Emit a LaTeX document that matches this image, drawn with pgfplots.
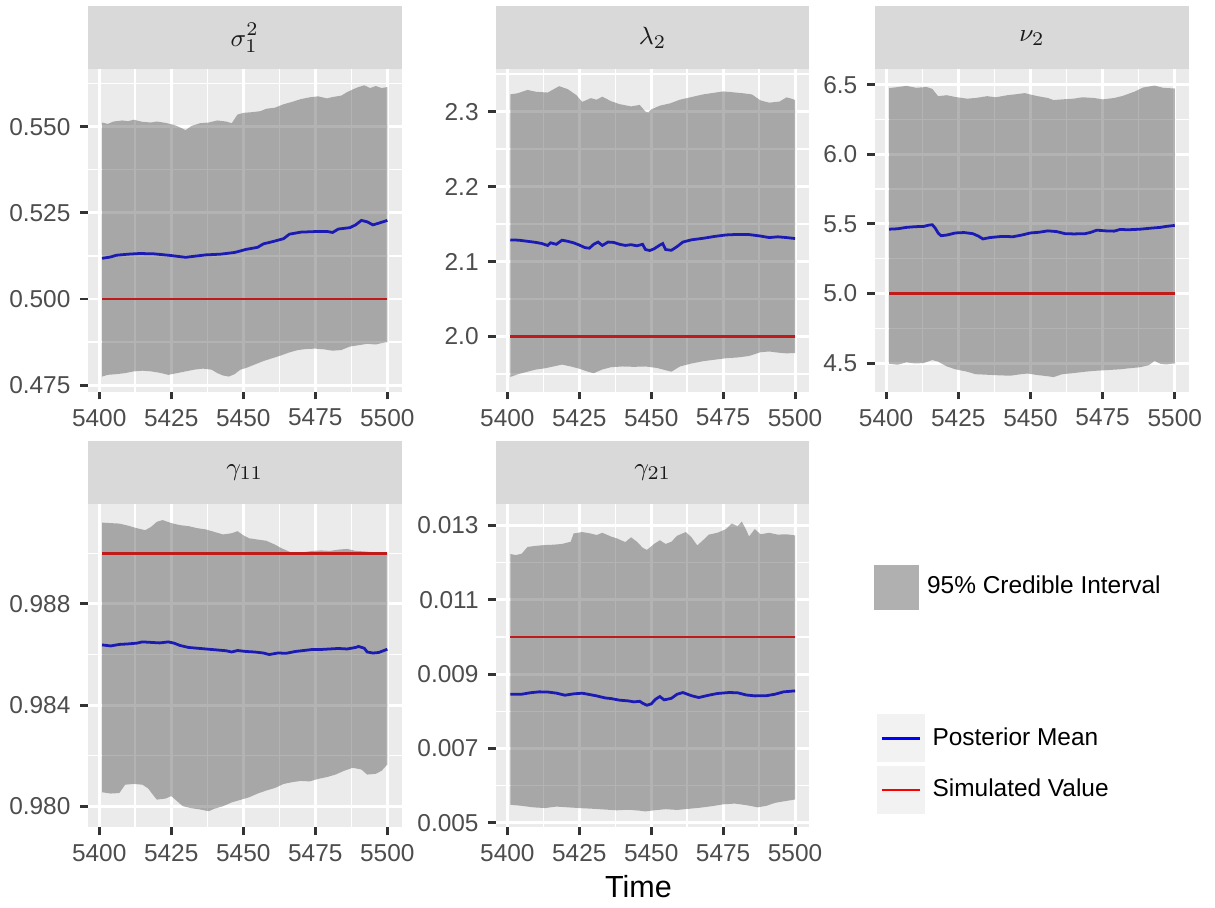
\documentclass[border=0pt]{standalone}
\usepackage{pgfplots}
\pgfplotsset{compat=1.18}
\usepgfplotslibrary{fillbetween}
\usepackage{fontspec}
\setmainfont{Liberation Sans}
\definecolor{panelbg}{HTML}{EBEBEB}
\definecolor{stripbg}{HTML}{D9D9D9}
\definecolor{ticktext}{HTML}{4D4D4D}
\definecolor{tickcol}{HTML}{333333}
\definecolor{striptext}{HTML}{1A1A1A}
\definecolor{bandc}{HTML}{434343}
\definecolor{keybg}{HTML}{F2F2F2}
\definecolor{meanc}{HTML}{1B1BB4}
\definecolor{simc}{HTML}{C01B1B}
\pgfplotsset{
 every axis title shift=0pt,
 facet/.style={
  scale only axis, anchor=south west,
  xmin=5396.05, xmax=5504.95,
  xtick={5400,5425,5450,5475,5500},
  xticklabels={5400,5425,5450,5475,5500},
  minor xtick={5412.5,5437.5,5462.5,5487.5},
  axis background/.style={fill=panelbg},
  axis line style={draw=none},
  grid=both,
  major grid style={white, line width=1.07pt},
  minor grid style={white, line width=0.53pt},
  tick pos=left, tick align=outside,
  major tick length=2.75pt, minor tick length=0pt,
  major tick style={tickcol, line width=1.07pt},
  ticklabel style={font=\fontsize{8.8}{10}\selectfont, text=ticktext},
  /pgf/number format/assume math mode=true,
  scaled ticks=false,
  title style={at={(0.5,1)}, anchor=south, yshift=0pt, fill=stripbg, inner sep=0pt, outer sep=0pt, minimum height=22.86pt, text=striptext, font=\fontsize{9.5}{11}\selectfont},
 },
 band/.style={fill=bandc, fill opacity=0.4, draw=none},
 meanline/.style={meanc, line width=1.0pt},
 simline/.style={simc, line width=1.0pt},
 keylegend/.style={draw=none, fill=none, inner sep=0pt, outer sep=0pt, column sep=0pt, row sep=1.44pt,
   nodes={inner xsep=2.9pt, inner ysep=0pt, font=\fontsize{8.8}{10}\selectfont, text=black}},
 keyblue/.style={legend image code/.code={%
   \fill[keybg] (0pt,-8.1pt) rectangle (16.2pt,8.1pt);
   \draw[blue, line width=1pt] (1.2pt,0pt) -- (15pt,0pt);}},
 keyred/.style={legend image code/.code={%
   \fill[keybg] (0pt,-8.1pt) rectangle (16.2pt,8.1pt);
   \draw[red, line width=1pt] (1.2pt,0pt) -- (15pt,0pt);}},
 keyband/.style={legend image code/.code={%
   \fill[keybg] (0pt,-8.1pt) rectangle (16.2pt,8.1pt);
   \fill[bandc, fill opacity=0.4] (0pt,-8.1pt) rectangle (16.2pt,8.1pt);}},
}
\begin{document}
\begin{tikzpicture}
\path (0,0) rectangle (437.4pt,-326.88pt);

% ---------- sigma_1^2 ----------
\begin{axis}[facet, at={(31.32pt,-141.12pt)}, width=113.04pt, height=116.1pt,
  title={$\sigma_1^2$}, title style={minimum width=113.04pt},
  ymin=0.4731, ymax=0.5666,
  ytick={0.475,0.5,0.525,0.55}, yticklabels={0.475,0.500,0.525,0.550},
  minor ytick={0.4875,0.5125,0.5375,0.5625}]
\addplot[draw=none, name path=up1, forget plot] coordinates {
(5401,0.5512) (5403,0.5508) (5405,0.5515) (5408,0.5518) (5410,0.5516) (5412,0.5520) (5415,0.5514) (5418,0.5512)
(5420,0.5515) (5423,0.5511) (5426,0.5505) (5428,0.5498) (5430,0.5490) (5432,0.5502) (5435,0.5510) (5438,0.5512)
(5441,0.5518) (5444,0.5515) (5446,0.5510) (5448,0.5535) (5450,0.5540) (5453,0.5542) (5456,0.5545) (5458,0.5552)
(5461,0.5555) (5464,0.5565) (5467,0.5572) (5470,0.5580) (5473,0.5585) (5476,0.5588) (5479,0.5582) (5481,0.5586)
(5484,0.5590) (5486,0.5600) (5488,0.5608) (5490,0.5615) (5492,0.5620) (5494,0.5612) (5496,0.5618) (5498,0.5612) (5500,0.5615)};
\addplot[draw=none, name path=lo1, forget plot] coordinates {
(5401,0.4775) (5403,0.4780) (5406,0.4782) (5409,0.4785) (5412,0.4790) (5415,0.4792) (5418,0.4790) (5421,0.4786)
(5424,0.4780) (5427,0.4785) (5430,0.4790) (5433,0.4795) (5436,0.4798) (5439,0.4795) (5441,0.4785) (5443,0.4778)
(5445,0.4775) (5447,0.4782) (5449,0.4795) (5451,0.4800) (5454,0.4810) (5457,0.4820) (5460,0.4828) (5463,0.4836)
(5466,0.4845) (5469,0.4852) (5472,0.4855) (5475,0.4856) (5478,0.4854) (5481,0.4850) (5484,0.4852) (5487,0.4862)
(5490,0.4866) (5493,0.4870) (5496,0.4868) (5498,0.4872) (5500,0.4875)};
\addplot[band, forget plot] fill between[of=up1 and lo1];
\addplot[simline, forget plot] coordinates {(5401,0.5) (5500,0.5)};
\addplot[meanline, forget plot] coordinates {
(5401,0.5118) (5404,0.5122) (5406,0.5127) (5410,0.5130) (5414,0.5132) (5419,0.5131) (5424,0.5127) (5428,0.5123)
(5430,0.5121) (5433,0.5124) (5437,0.5128) (5442,0.5130) (5447,0.5135) (5451,0.5144) (5455,0.5150) (5457,0.5160)
(5460,0.5166) (5464,0.5175) (5466,0.5188) (5470,0.5194) (5476,0.5196) (5479,0.5196) (5481,0.5193) (5483,0.5203)
(5487,0.5207) (5489,0.5215) (5491,0.5228) (5493,0.5224) (5495,0.5215) (5497,0.5220) (5500,0.5228)};
\end{axis}

% ---------- lambda_2 ----------
\begin{axis}[facet, at={(178.38pt,-141.12pt)}, width=112.86pt, height=116.1pt,
  title={$\lambda_2$}, title style={minimum width=112.86pt},
  ymin=1.9263, ymax=2.3563,
  ytick={2.0,2.1,2.2,2.3}, yticklabels={2.0,2.1,2.2,2.3},
  minor ytick={1.95,2.05,2.15,2.25,2.35}]
\addplot[draw=none, name path=up2, forget plot] coordinates {
(5401,2.3231) (5403.5,2.3245) (5407,2.3290) (5410,2.3265) (5414,2.3255) (5418,2.3340) (5421,2.3300) (5424,2.3220)
(5426,2.3130) (5429,2.3180) (5431,2.3160) (5433,2.3200) (5436,2.3140) (5439,2.3100) (5443,2.3070) (5446,2.3090)
(5448,2.3000) (5449,2.2990) (5450,2.3030) (5453,2.3080) (5456.5,2.3110) (5460,2.3160) (5464.6,2.3200) (5468,2.3230)
(5471.5,2.3250) (5475,2.3270) (5478,2.3260) (5482,2.3245) (5485,2.3230) (5488,2.3150) (5491,2.3120) (5494.6,2.3135)
(5497,2.3190) (5498.6,2.3175) (5500,2.3156)};
\addplot[draw=none, name path=lo2, forget plot] coordinates {
(5401,1.9460) (5404,1.9500) (5407,1.9530) (5410,1.9560) (5413,1.9575) (5416,1.9600) (5419,1.9625) (5422,1.9600)
(5425,1.9570) (5428,1.9530) (5430,1.9510) (5433,1.9560) (5436,1.9590) (5440,1.9600) (5444,1.9595) (5448,1.9600)
(5452,1.9580) (5455,1.9550) (5457,1.9530) (5460,1.9600) (5464,1.9640) (5468,1.9670) (5472,1.9690) (5476,1.9710)
(5480,1.9720) (5484,1.9740) (5488,1.9790) (5491,1.9800) (5494,1.9785) (5497,1.9775) (5500,1.9780)};
\addplot[band, forget plot] fill between[of=up2 and lo2];
\addplot[simline, forget plot] coordinates {(5401,2.0) (5500,2.0)};
\addplot[meanline, forget plot] coordinates {
(5401,2.1289) (5404,2.1285) (5407,2.1270) (5410,2.1255) (5412,2.1240) (5414,2.1215) (5415,2.1250) (5417,2.1230)
(5419,2.1285) (5421,2.1270) (5423,2.1250) (5425,2.1220) (5427,2.1185) (5428.5,2.1178) (5430,2.1230) (5431.5,2.1260)
(5433,2.1215) (5435,2.1260) (5437,2.1255) (5439,2.1230) (5441,2.1215) (5443,2.1225) (5445,2.1210) (5447,2.1230)
(5448,2.1160) (5449.5,2.1147) (5451,2.1170) (5453,2.1220) (5454,2.1240) (5455,2.1160) (5457,2.1150) (5459,2.1200)
(5461,2.1260) (5464,2.1290) (5468,2.1310) (5472,2.1335) (5476,2.1355) (5480,2.1362) (5484,2.1360) (5488,2.1340)
(5491,2.1320) (5494,2.1330) (5497,2.1320) (5500,2.1307)};
\end{axis}

% ---------- nu_2 ----------
\begin{axis}[facet, at={(314.82pt,-141.12pt)}, width=113.22pt, height=116.1pt,
  title={$\nu_2$}, title style={minimum width=113.22pt},
  ymin=4.294, ymax=6.61,
  ytick={4.5,5.0,5.5,6.0,6.5}, yticklabels={4.5,5.0,5.5,6.0,6.5},
  minor ytick={4.75,5.25,5.75,6.25}]
\addplot[draw=none, name path=up3, forget plot] coordinates {
(5401,6.476) (5403.5,6.482) (5407,6.492) (5410.4,6.478) (5414,6.484) (5416,6.470) (5418,6.418) (5421,6.425)
(5424,6.412) (5428,6.400) (5431,6.405) (5435,6.418) (5438,6.410) (5442,6.425) (5445,6.432) (5448,6.440)
(5452,6.420) (5456,6.405) (5458,6.390) (5461,6.395) (5465,6.400) (5468,6.410) (5472,6.405) (5475,6.395)
(5479,6.405) (5482,6.420) (5486,6.450) (5489,6.480) (5493,6.494) (5496,6.478) (5500,6.473)};
\addplot[draw=none, name path=lo3, forget plot] coordinates {
(5401,4.495) (5404,4.488) (5407,4.505) (5410,4.497) (5413,4.500) (5416,4.522) (5418,4.510) (5421,4.476)
(5424,4.455) (5428,4.438) (5431,4.420) (5435,4.416) (5439,4.412) (5443,4.409) (5446,4.418) (5449,4.425)
(5452,4.415) (5456,4.405) (5458,4.399) (5461,4.420) (5465,4.428) (5469,4.438) (5473,4.445) (5477,4.450)
(5481,4.455) (5484,4.462) (5488,4.470) (5491,4.485) (5493,4.515) (5495,4.495) (5497,4.490) (5500,4.498)};
\addplot[band, forget plot] fill between[of=up3 and lo3];
\addplot[simline, forget plot] coordinates {(5401,5.0) (5500,5.0)};
\addplot[meanline, forget plot] coordinates {
(5401,5.462) (5404,5.465) (5407,5.475) (5410,5.480) (5413,5.482) (5415,5.492) (5416,5.494) (5417,5.470)
(5418,5.435) (5419,5.415) (5421,5.420) (5424,5.435) (5427,5.438) (5430,5.430) (5432,5.412) (5433.5,5.392)
(5436,5.402) (5440,5.410) (5444,5.408) (5447,5.420) (5450,5.435) (5453,5.440) (5456,5.450) (5459,5.445)
(5462,5.430) (5465,5.428) (5469,5.430) (5471,5.440) (5473,5.455) (5476,5.450) (5479,5.448) (5481,5.460)
(5484,5.458) (5488,5.462) (5492,5.470) (5495,5.475) (5497,5.482) (5500,5.489)};
\end{axis}

% ---------- gamma_11 ----------
\begin{axis}[facet, at={(31.32pt,-298.08pt)}, width=113.04pt, height=116.46pt,
  title={$\gamma_{11}$}, title style={minimum width=113.04pt},
  ymin=0.97916, ymax=0.99195,
  ytick={0.980,0.984,0.988}, yticklabels={0.980,0.984,0.988},
  minor ytick={0.982,0.986,0.990},
  legend style={keylegend, at={(2.506,0.7434)}, anchor=west}, legend cell align=left]
\addplot[draw=none, name path=up4, forget plot] coordinates {
(5401,0.99122) (5404,0.99120) (5407,0.99118) (5410,0.99110) (5413,0.99100) (5416,0.99092) (5418,0.99105) (5420,0.99125)
(5422,0.99132) (5425,0.99120) (5428,0.99112) (5431,0.99108) (5434,0.99100) (5437,0.99095) (5440,0.99085) (5443,0.99075)
(5446,0.99080) (5448,0.99088) (5450,0.99072) (5452,0.99060) (5455,0.99055) (5458,0.99050) (5461,0.99035) (5463,0.99022)
(5465,0.99012) (5467,0.99002) (5469,0.98995) (5471,0.99005) (5474,0.99010) (5477,0.99012) (5480,0.99010) (5483,0.99015)
(5486,0.99018) (5489,0.99010) (5492,0.99008) (5495,0.99005) (5497,0.98998) (5500,0.99002)};
\addplot[draw=none, name path=lo4, forget plot] coordinates {
(5401,0.98055) (5404,0.98050) (5407,0.98052) (5409,0.98085) (5412,0.98088) (5415,0.98085) (5417,0.98070) (5419,0.98040)
(5420,0.98026) (5423,0.98030) (5425,0.98040) (5427,0.98020) (5429,0.98000) (5432,0.97992) (5435,0.97987) (5438,0.97980)
(5440,0.97990) (5443,0.98000) (5446,0.98015) (5449,0.98025) (5452,0.98035) (5455,0.98050) (5458,0.98062) (5461,0.98072)
(5464,0.98088) (5467,0.98095) (5470,0.98100) (5473,0.98098) (5476,0.98108) (5479,0.98115) (5482,0.98125) (5485,0.98140)
(5488,0.98152) (5491,0.98145) (5493,0.98125) (5496,0.98128) (5498,0.98140) (5500,0.98165)};
\addplot[band, keyband] fill between[of=up4 and lo4];
\addlegendentry{95\% Credible Interval}
\addplot[simline, forget plot] coordinates {(5401,0.990) (5500,0.990)};
\addplot[meanline, forget plot] coordinates {
(5401,0.98638) (5404,0.98634) (5407,0.98640) (5410,0.98642) (5413,0.98645) (5415,0.98650) (5418,0.98648) (5421,0.98646)
(5424,0.98650) (5426,0.98645) (5428,0.98636) (5431,0.98628) (5434,0.98625) (5437,0.98622) (5441,0.98618) (5444,0.98615)
(5446,0.98610) (5448,0.98616) (5451,0.98612) (5454,0.98610) (5457,0.98606) (5459,0.98600) (5462,0.98606) (5465,0.98605)
(5468,0.98612) (5471,0.98616) (5474,0.98620) (5477,0.98620) (5480,0.98622) (5483,0.98624) (5486,0.98622) (5489,0.98628)
(5490,0.98632) (5492,0.98625) (5493,0.98610) (5495,0.98606) (5497,0.98608) (5500,0.98621)};
\end{axis}

% ---------- gamma_21 ----------
\begin{axis}[facet, at={(178.38pt,-298.08pt)}, width=112.86pt, height=116.46pt,
  title={$\gamma_{21}$}, title style={minimum width=112.86pt},
  ymin=0.00488, ymax=0.01357,
  ytick={0.005,0.007,0.009,0.011,0.013}, yticklabels={0.005,0.007,0.009,0.011,0.013},
  minor ytick={0.006,0.008,0.010,0.012},
  xlabel={Time}, xlabel style={at={(axis description cs:0.4545,-0.2164)}, anchor=base, font=\fontsize{11}{13}\selectfont, text=black},
  legend style={keylegend, at={(1.2155,0.3493)}, anchor=north west}, legend cell align=left]
\addplot[draw=none, name path=up5, forget plot] coordinates {
(5401,0.012230) (5403,0.012200) (5405,0.012240) (5407,0.012420) (5410,0.012450) (5413,0.012470) (5416,0.012480) (5419,0.012500)
(5422,0.012560) (5423,0.012780) (5426,0.012820) (5429,0.012780) (5431,0.012740) (5433,0.012800) (5436,0.012700) (5438,0.012650)
(5441,0.012550) (5443,0.012680) (5445,0.012560) (5447,0.012400) (5448.5,0.012340) (5451,0.012500) (5453,0.012600) (5455,0.012500)
(5457,0.012560) (5459,0.012720) (5462,0.012820) (5464,0.012680) (5466,0.012460) (5468,0.012600) (5470,0.012750) (5473,0.012800)
(5476,0.012900) (5478,0.013050) (5480,0.012980) (5481.5,0.013100) (5483,0.012880) (5484,0.012700) (5486,0.012900) (5488,0.012760)
(5491,0.012800) (5494,0.012750) (5497,0.012760) (5500,0.012730)};
\addplot[draw=none, name path=lo5, forget plot] coordinates {
(5401,0.005490) (5405,0.005460) (5409,0.005420) (5413,0.005400) (5417,0.005440) (5421,0.005420) (5425,0.005400) (5430,0.005380)
(5434,0.005360) (5438,0.005340) (5442,0.005355) (5446,0.005330) (5448,0.005310) (5451,0.005340) (5455,0.005370) (5459,0.005350)
(5463,0.005380) (5467,0.005410) (5471,0.005450) (5475,0.005500) (5479,0.005520) (5483,0.005480) (5487,0.005420) (5490,0.005460)
(5493,0.005540) (5496,0.005580) (5500,0.005630)};
\addplot[band, forget plot] fill between[of=up5 and lo5];
\addplot[meanline, keyblue] coordinates {
(5401,0.008461) (5405,0.008461) (5408,0.008500) (5411,0.008524) (5414,0.008520) (5417,0.008490) (5420,0.008434) (5423,0.008470)
(5426,0.008488) (5428,0.008460) (5431,0.008416) (5434,0.008360) (5436,0.008344) (5439,0.008300) (5442,0.008281) (5444,0.008254)
(5446,0.008270) (5447,0.008218) (5448.5,0.008164) (5450,0.008200) (5451.5,0.008326) (5453,0.008398) (5454.5,0.008308) (5457,0.008350)
(5459,0.008460) (5461,0.008506) (5464,0.008420) (5466.5,0.008371) (5470,0.008434) (5473,0.008480) (5477,0.008506) (5480,0.008500)
(5483,0.008440) (5486,0.008416) (5490,0.008420) (5493,0.008460) (5496,0.008524) (5500,0.008551)};
\addlegendentry{Posterior Mean}
\addplot[simline, keyred] coordinates {(5401,0.010) (5500,0.010)};
\addlegendentry{Simulated Value}
\end{axis}
\end{tikzpicture}
\end{document}
